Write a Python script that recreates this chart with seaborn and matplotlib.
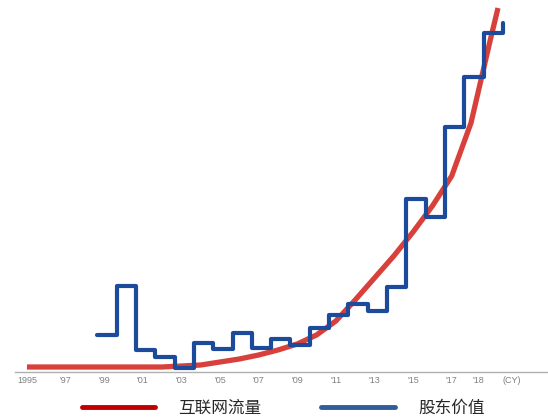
import matplotlib
matplotlib.use('Agg')
import matplotlib.pyplot as plt
import pandas as pd
import seaborn as sns
from matplotlib.lines import Line2D

# internet traffic (red curve), arbitrary units
RED_YEARS = [1995, 1996, 1997, 1998, 1999, 2000, 2001, 2002, 2003, 2004,
             2005, 2006, 2007, 2008, 2009, 2010, 2011, 2012, 2013, 2014,
             2015, 2016, 2017, 2018, 2019, 2019.4]
RED_VALUES = [5, 5, 5, 5, 5, 5, 5, 5, 6, 7,
              10, 13, 17, 22, 28, 37, 51, 72, 94, 116,
              140, 166, 196, 249, 332, 364]

# shareholder value (blue step line), one level per year
BLUE_YEARS = list(range(1999, 2021))
BLUE_VALUES = [37, 86, 22, 15, 4, 29, 23, 39, 24, 33, 27,
               44, 57, 68, 61, 85, 173, 155, 245, 295, 339, 349]

TICK_POS = [1995, 1997, 1999, 2001, 2003, 2005, 2007, 2009, 2011, 2013,
            2015, 2017, 2018.4, 2020.1]
TICK_LABELS = ['1995', "'97", "'99", "'01", "'03", "'05", "'07", "'09",
               "'11", "'13", "'15", "'17", "'18", '(CY)']

LABEL_RED = '互联网流量'
LABEL_BLUE = '股东价值'

RED = '#d8413b'
BLUE = '#1d4b9b'


def main():
    sns.set_style('white')
    plt.rcParams['font.family'] = ['Noto Sans CJK SC', 'DejaVu Sans']

    red = pd.DataFrame({'year': RED_YEARS, 'value': RED_VALUES})
    blue = pd.DataFrame({'year': [y - 0.35 for y in BLUE_YEARS],
                         'value': BLUE_VALUES})

    fig = plt.figure(figsize=(5.48, 4.2), dpi=100)
    ax = fig.add_axes([15 / 548, 48 / 420, 533 / 548, 372 / 420])

    sns.lineplot(data=red, x='year', y='value', ax=ax, color=RED,
                 linewidth=3.8, solid_capstyle='butt', zorder=2)
    sns.lineplot(data=blue, x='year', y='value', ax=ax, color=BLUE,
                 linewidth=3.0, drawstyle='steps-post', zorder=3)

    ax.set_xlim(1994.38, 2021.99)
    ax.set_ylim(0, 372)
    ax.set_xlabel('')
    ax.set_ylabel('')
    ax.set_yticks([])
    ax.set_xticks(TICK_POS)
    ax.set_xticklabels(TICK_LABELS, fontsize=6.5, color='#808080',
                       family=['Liberation Sans', 'DejaVu Sans'])
    ax.tick_params(axis='x', length=0, pad=3)

    sns.despine(ax=ax, left=True, right=True, top=True)
    ax.spines['bottom'].set_color('#b0b0b0')
    ax.spines['bottom'].set_linewidth(1.0)

    handles = [Line2D([], [], color='#c00000', linewidth=3.5),
               Line2D([], [], color='#2f5c9a', linewidth=3.5)]
    fig.legend(handles, [LABEL_RED, LABEL_BLUE], loc='center',
               bbox_to_anchor=(283 / 548, 1 - 408 / 420), ncol=2,
               frameon=False, fontsize=12, handlelength=4.4,
               handletextpad=1.4, columnspacing=3.6)

    fig.savefig('out.png', dpi=100)
    plt.close(fig)


if __name__ == '__main__':
    main()
